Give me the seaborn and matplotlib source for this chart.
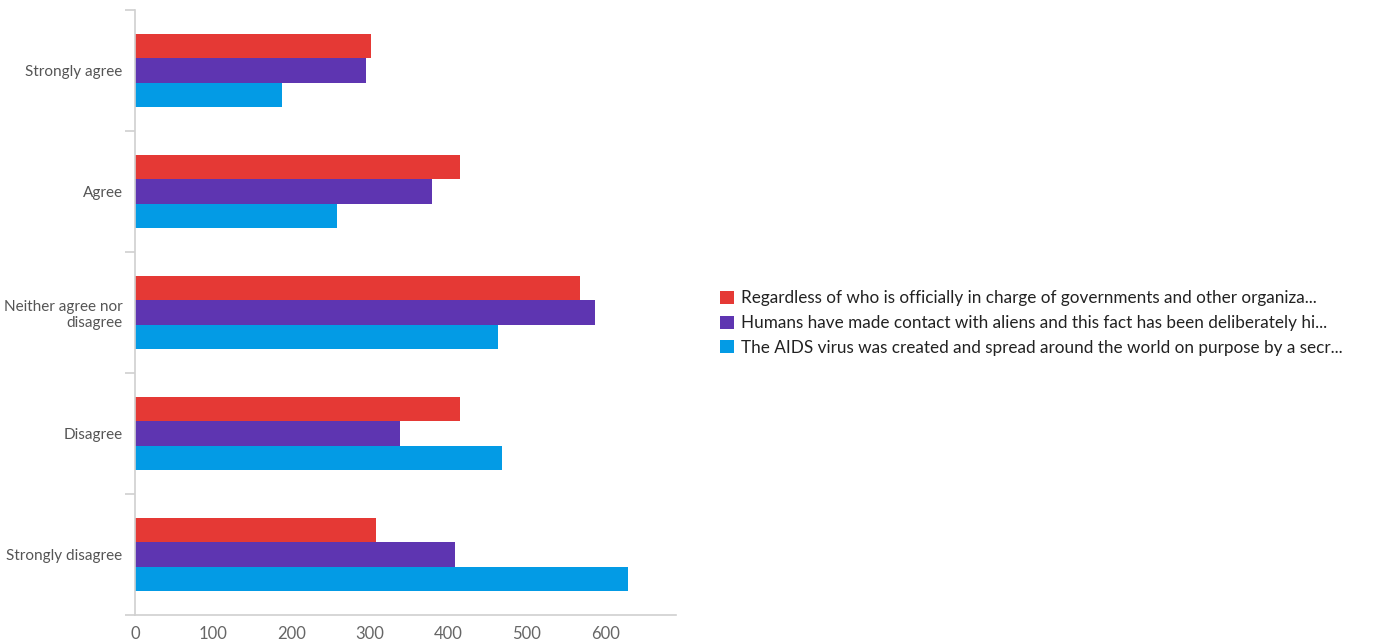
import matplotlib
matplotlib.use("Agg")
import matplotlib.pyplot as plt
import seaborn as sns
import pandas as pd
import numpy as np

categories = ["Strongly agree", "Agree", "Neither agree nor\ndisagree", "Disagree", "Strongly disagree"]
series_names = [
    "Regardless of who is officially in charge of governments and other organiza...",
    "Humans have made contact with aliens and this fact has been deliberately hi...",
    "The AIDS virus was created and spread around the world on purpose by a secr...",
]
regardless = [301, 415, 568, 415, 308]
aliens = [295, 379, 587, 338, 408]
aids = [188, 258, 463, 468, 629]
colors = ["#E53935", "#5E35B1", "#039BE5"]
xticks = [0, 100, 200, 300, 400, 500, 600]

rows = []
for name, vals in zip(series_names, [regardless, aliens, aids]):
    for c, v in zip(categories, vals):
        rows.append({"category": c, "series": name, "value": v})
df = pd.DataFrame(rows)

sns.set_theme(style="white")
plt.rcParams["font.family"] = ["Lato", "DejaVu Sans"]

fig = plt.figure(figsize=(13.9, 6.44), dpi=100)
ax = fig.add_axes([135 / 1390, 1 - 615 / 644, (676 - 135) / 1390, (615 - 10) / 644])

sns.barplot(data=df, y="category", x="value", hue="series", order=categories,
            hue_order=series_names, palette=colors, orient="h", width=0.61,
            saturation=1, ax=ax, legend=True, linewidth=0, edgecolor="none")

ax.set_xlim(0, 690)
ax.set_ylim(len(categories) - 0.5, -0.5)
ax.set_xticks(xticks)
ax.set_xticklabels([str(t) for t in xticks])
ax.set_xlabel("")
ax.set_ylabel("")

for s in ["top", "right"]:
    ax.spines[s].set_visible(False)
for s in ["left", "bottom"]:
    ax.spines[s].set_color("#d0d0d0")
    ax.spines[s].set_linewidth(1.2)

ax.tick_params(axis="x", length=0, labelsize=12, colors="#666666", pad=8)
ax.tick_params(axis="y", which="major", left=False, length=0, labelsize=11, colors="#555555", pad=9)
ax.set_yticks(np.arange(-0.5, len(categories), 1), minor=True)
ax.tick_params(axis="y", which="minor", left=True, length=7, width=1.2, color="#d0d0d0")
for lbl in ax.get_yticklabels():
    lbl.set_horizontalalignment("right")
    lbl.set_multialignment("right")

handles, labels = ax.get_legend_handles_labels()
ax.get_legend().remove()
fig.legend(handles, labels, loc="center left", bbox_to_anchor=(705 / 1390, 1 - 323 / 644),
           frameon=False, fontsize=12.3, handlelength=0.8, handleheight=0.8,
           handletextpad=0.4, labelspacing=0.5, labelcolor="#222222")

fig.savefig("out.png", dpi=100)
